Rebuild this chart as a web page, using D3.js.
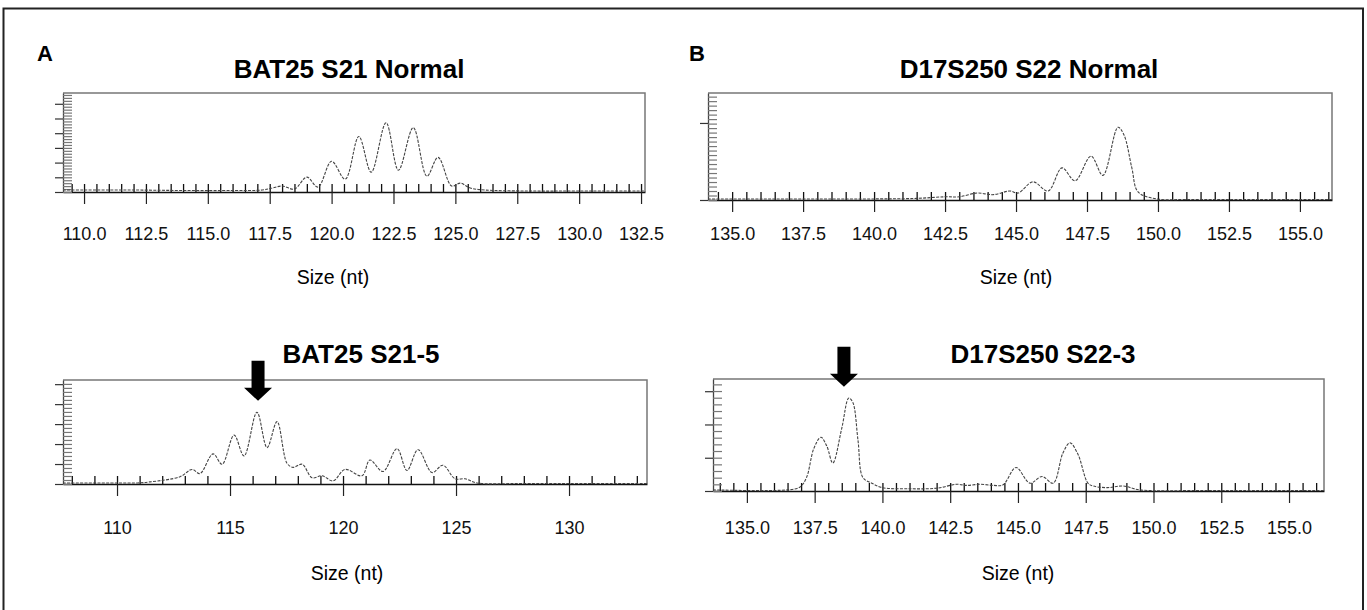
<!DOCTYPE html>
<html>
<head>
<meta charset="utf-8">
<script src="https://cdn.jsdelivr.net/npm/d3@7/dist/d3.min.js"></script>
<style>
  body { margin: 0; background: #fff; }
  svg { display: block; font-family: "Liberation Sans", Arial, Helvetica, sans-serif; }
</style>
</head>
<body>
<svg id="chart" width="1367" height="610"></svg>
<script>
// fragment size (nt) and signal (% of full scale)
var bat25NormalSize   = [109.15, 110, 112, 114, 116, 117.2, 117.6, 118.0, 118.5, 119.0, 119.45, 120.0, 120.55, 121.1, 121.6, 122.2, 122.7, 123.3, 123.85, 124.3, 124.85, 125.2, 125.6, 126.2, 128, 130, 132.66];
var bat25NormalSignal = [2, 2, 2, 1.5, 1.5, 2, 4, 6, 3, 15, 5, 31, 13, 56, 20, 70, 22, 65, 16, 35, 6, 9, 4, 2, 1, 1, 1];

var bat25TumorSize   = [107.61, 110, 110.9, 111.46, 112.79, 113.32, 113.67, 114.25, 114.65, 115.18, 115.62, 116.19, 116.64, 117.08, 117.52, 117.79, 118.19, 118.63, 119.07, 119.56, 120.09, 120.84, 121.19, 121.77, 122.39, 122.83, 123.32, 123.94, 124.42, 124.96, 125.4, 125.93, 128, 133.45];
var bat25TumorSignal = [1, 1, 1, 2, 7, 14, 10, 29, 19, 47, 27, 69, 35, 60, 20, 16, 19, 6, 8, 3, 14, 8, 23, 12, 34, 13, 33, 11, 18, 5, 5, 1, 0.5, 0.5];

var d17NormalSize   = [134.15, 136, 138, 140, 141.5, 142.5, 143.0, 143.63, 144.2, 144.79, 145.07, 145.6, 146.13, 146.62, 147.08, 147.64, 148.06, 148.59, 148.8, 149.08, 149.3, 149.96, 151, 153, 156.13];
var d17NormalSignal = [1, 1, 1, 1, 1.5, 3, 3, 6.5, 5, 8.4, 6.5, 17, 8.4, 30, 18, 41, 23, 68, 61, 30, 7.5, 1, 0.5, 0.5, 0.5];

var d17TumorSize   = [133.75, 136.5, 136.96, 137.2, 137.47, 137.73, 137.95, 138.17, 138.5, 138.76, 138.91, 139.1, 139.28, 139.61, 140.0, 141, 142, 142.75, 143.1, 143.6, 144.1, 144.45, 144.93, 145.44, 145.89, 146.3, 146.66, 146.92, 147.21, 147.58, 147.77, 148.3, 148.87, 149.5, 152, 156.29];
var d17TumorSignal = [1, 1, 3.5, 12, 38, 48, 40, 25, 56, 83, 79, 45, 12, 7, 3, 2, 2.5, 6, 5, 6, 5, 5.5, 21, 7, 13, 7, 34, 43, 33, 7, 4.5, 3, 4.5, 1, 0.5, 0.5];

// axis extents and labelled ticks (nt)
var bat25NormalRange = [109.15, 132.66];
var bat25TumorRange  = [107.61, 133.45];
var d17NormalRange   = [134.15, 156.13];
var d17TumorRange    = [133.75, 156.29];
var bat25NormalTicks = [110.0, 112.5, 115.0, 117.5, 120.0, 122.5, 125.0, 127.5, 130.0, 132.5];
var bat25TumorTicks  = [110, 115, 120, 125, 130];
var d17Ticks         = [135.0, 137.5, 140.0, 142.5, 145.0, 147.5, 150.0, 152.5, 155.0];

// arrows: size pointed at, and height of the tip (%)
var arrowSize = [116.24, 138.58];
var arrowTip  = [80, 93];

var rows = [
  { title: 78, tick: 240, axisTitle: 284 },
  { title: 363, tick: 534, axisTitle: 580 }
];

var panels = [
  { title: "BAT25 S21 Normal", size: bat25NormalSize, signal: bat25NormalSignal, range: bat25NormalRange,
    ticks: bat25NormalTicks, minor: 0.5, fmt: ".1f", yMajor: 14.85, yMinor: 2.97,
    box: { left: 63, right: 645, top: 93, bottom: 192 }, titleX: 349, sizeX: 333, row: rows[0] },
  { title: "D17S250 S22 Normal", size: d17NormalSize, signal: d17NormalSignal, range: d17NormalRange,
    ticks: d17Ticks, minor: 0.5, fmt: ".1f", yMajor: 72, yMinor: 4.2,
    box: { left: 708, right: 1332, top: 93, bottom: 200 }, titleX: 1029, sizeX: 1016, row: rows[0] },
  { title: "BAT25 S21-5", size: bat25TumorSize, signal: bat25TumorSignal, range: bat25TumorRange,
    ticks: bat25TumorTicks, minor: 1, fmt: "d", yMajor: 19.2, yMinor: 3.85,
    box: { left: 63, right: 647, top: 380, bottom: 484 }, titleX: 361, sizeX: 347, row: rows[1], arrow: 0 },
  { title: "D17S250 S22-3", size: d17TumorSize, signal: d17TumorSignal, range: d17TumorRange,
    ticks: d17Ticks, minor: 0.5, fmt: ".1f", yMajor: 29.7, yMinor: 5.95,
    box: { left: 713, right: 1324, top: 379, bottom: 491 }, titleX: 1043, sizeX: 1018, row: rows[1], arrow: 1 }
];

var svg = d3.select("#chart");

// outer frame (bottom edge is cut off in the scan)
svg.append("path")
  .attr("d", "M3.5,610V8.5H1363V610")
  .attr("fill", "none")
  .attr("stroke", "#222")
  .attr("stroke-width", 2);

svg.append("text").attr("x", 37).attr("y", 61)
  .attr("font-size", 22).attr("font-weight", "bold").text("A");
svg.append("text").attr("x", 689).attr("y", 61)
  .attr("font-size", 22).attr("font-weight", "bold").text("B");

panels.forEach(function (p) {
  var g = svg.append("g");
  var x = d3.scaleLinear().domain(p.range).range([p.box.left, p.box.right]);
  var y = d3.scaleLinear().domain([0, 100]).range([p.box.bottom, p.box.top]);

  g.append("text")
    .attr("x", p.titleX).attr("y", p.row.title)
    .attr("text-anchor", "middle")
    .attr("font-size", 26).attr("font-weight", "bold")
    .text(p.title);

  // grey top and right edge of the plot box
  g.append("path")
    .attr("d", "M" + x(p.range[0]) + "," + y(100) + "H" + x(p.range[1]) + "V" + y(0))
    .attr("fill", "none")
    .attr("stroke", "#777")
    .attr("stroke-width", 1.5);

  // minor x ticks point up from the baseline
  var minorX = d3.range(Math.ceil(p.range[0] / p.minor) * p.minor, p.range[1], p.minor);
  g.append("g")
    .attr("transform", "translate(0," + y(0) + ")")
    .call(d3.axisBottom(x).tickValues(minorX).tickSize(-8).tickSizeOuter(0).tickFormat(""))
    .call(function (a) {
      a.select(".domain").attr("stroke", "#111").attr("stroke-width", 1.6);
      a.selectAll(".tick line").attr("stroke", "#111").attr("stroke-width", 1.3);
    });

  // labelled ticks point down
  g.append("g")
    .attr("transform", "translate(0," + y(0) + ")")
    .call(d3.axisBottom(x).tickValues(p.ticks).tickSize(12).tickFormat(d3.format(p.fmt)))
    .call(function (a) {
      a.select(".domain").remove();
      a.selectAll(".tick line").attr("stroke", "#222").attr("stroke-width", 1.2);
      a.selectAll(".tick text")
        .attr("y", p.row.tick - y(0)).attr("dy", 0)
        .attr("font-size", 18).attr("fill", "#111")
        .attr("font-family", "\"Liberation Sans\", Arial, sans-serif");
    });

  // y axis: dense grey ticks inside, longer ones outside
  var minorY = d3.range(0, 100, p.yMinor);
  var majorY = d3.range(0, 100, p.yMajor);
  g.append("g")
    .attr("transform", "translate(" + x(p.range[0]) + ",0)")
    .call(d3.axisLeft(y).tickValues(minorY).tickSize(-9).tickSizeOuter(0).tickFormat(""))
    .call(function (a) {
      a.select(".domain").attr("stroke", "#444").attr("stroke-width", 1.3);
      a.selectAll(".tick line").attr("stroke", "#777").attr("stroke-width", 1.2);
    });
  g.append("g")
    .attr("transform", "translate(" + x(p.range[0]) + ",0)")
    .call(d3.axisLeft(y).tickValues(majorY).tickSize(8).tickFormat(""))
    .call(function (a) {
      a.select(".domain").remove();
      a.selectAll(".tick line").attr("stroke", "#333").attr("stroke-width", 1.2);
    });

  g.append("text")
    .attr("x", p.sizeX).attr("y", p.row.axisTitle)
    .attr("text-anchor", "middle")
    .attr("font-size", 19.5)
    .text("Size (nt)");

  // the trace
  var line = d3.line()
    .x(function (d) { return x(d[0]); })
    .y(function (d) { return y(d[1]); })
    .curve(d3.curveCatmullRom.alpha(0.5));
  g.append("path")
    .datum(d3.zip(p.size, p.signal))
    .attr("d", line)
    .attr("fill", "none")
    .attr("stroke", "#444")
    .attr("stroke-width", 1.1)
    .attr("stroke-dasharray", "3,1.3");

  if (p.arrow !== undefined) {
    var ax = x(arrowSize[p.arrow]), ty = y(arrowTip[p.arrow]);
    g.append("path")
      .attr("d", "M" + ax + "," + ty +
        "L" + (ax - 14) + "," + (ty - 13) +
        "L" + (ax - 6.5) + "," + (ty - 13) +
        "L" + (ax - 6.5) + "," + (ty - 40) +
        "L" + (ax + 6.5) + "," + (ty - 40) +
        "L" + (ax + 6.5) + "," + (ty - 13) +
        "L" + (ax + 14) + "," + (ty - 13) + "Z")
      .attr("fill", "#000");
  }
});
</script>
</body>
</html>
